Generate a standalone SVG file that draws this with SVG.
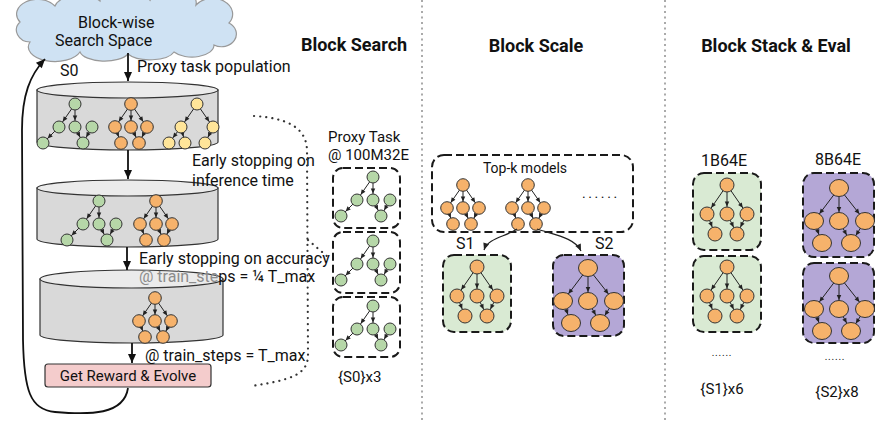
<svg xmlns="http://www.w3.org/2000/svg" xmlns:xlink="http://www.w3.org/1999/xlink" width="891" height="423" viewBox="0 0 891 423">
<style>
text{font-family:Roboto,"Liberation Sans",sans-serif;fill:#111}
.lb{font-size:16px}
.tt{font-size:18px;font-weight:bold;text-anchor:middle}
.cb{fill:#d9d9d9;stroke:#333;stroke-width:1.2}
.ct{fill:#ebebeb;stroke:#333;stroke-width:1.2}
.ng{fill:#b6d7a8;stroke:#333;stroke-width:1}
.no{fill:#f6b26b;stroke:#333;stroke-width:1}
.ny{fill:#ffe599;stroke:#333;stroke-width:1}
.e6 line{stroke:#222;stroke-width:1;marker-end:url(#ah6)}
.e7 line{stroke:#222;stroke-width:1;marker-end:url(#ah7)}
.e9 line{stroke:#222;stroke-width:1;marker-end:url(#ah9)}
.dbox{stroke:#1a1a1a;stroke-width:2;stroke-dasharray:8 4;fill:none}
.sep{stroke:#aaa;stroke-width:2;stroke-dasharray:2 3.5}
.dot{fill:none;stroke:#333;stroke-width:2.2;stroke-linecap:round;stroke-dasharray:0.1 6}
.main{fill:none;stroke:#111;stroke-width:1.8}
</style>
<defs>
<marker id="arr" markerUnits="userSpaceOnUse" markerWidth="10" markerHeight="8" refX="9" refY="4" orient="auto" overflow="visible"><path d="M0,0 L9,4 L0,8 z" fill="#111"/></marker>
<marker id="arrs" markerUnits="userSpaceOnUse" markerWidth="8" markerHeight="6" refX="7" refY="3" orient="auto" overflow="visible"><path d="M0,0 L7,3 L0,6 z" fill="#222"/></marker>
<marker id="ah6" markerUnits="userSpaceOnUse" markerWidth="6" markerHeight="5" refX="11.5" refY="2.25" orient="auto" overflow="visible"><path d="M0,0 L5,2.25 L0,4.5 z" fill="#222"/></marker>
<marker id="ah7" markerUnits="userSpaceOnUse" markerWidth="6" markerHeight="5" refX="12.5" refY="2.25" orient="auto" overflow="visible"><path d="M0,0 L5,2.25 L0,4.5 z" fill="#222"/></marker>
<marker id="ah9" markerUnits="userSpaceOnUse" markerWidth="6" markerHeight="5" refX="14" refY="2.25" orient="auto" overflow="visible"><path d="M0,0 L5,2.25 L0,4.5 z" fill="#222"/></marker>
<g id="tG6">
<g class="e6"><line x1="0" y1="0" x2="-16" y2="23"/><line x1="0" y1="0" x2="0" y2="23"/><line x1="-16" y1="23" x2="-32" y2="39"/><line x1="0" y1="23" x2="8" y2="39"/><line x1="17" y1="23" x2="8" y2="39"/></g>
<circle class="ng" cx="0" cy="0" r="6"/><circle class="ng" cx="-16" cy="23" r="6"/><circle class="ng" cx="0" cy="23" r="6"/><circle class="ng" cx="17" cy="23" r="6"/><circle class="ng" cx="-32" cy="39" r="6"/><circle class="ng" cx="8" cy="39" r="6"/>
</g>
<g id="tA6">
<g class="e6"><line x1="0" y1="0" x2="-16" y2="23"/><line x1="0" y1="0" x2="0" y2="23"/><line x1="0" y1="0" x2="16" y2="23"/><line x1="-16" y1="23" x2="-10" y2="39"/><line x1="0" y1="23" x2="8" y2="39"/><line x1="16" y1="23" x2="8" y2="39"/></g>
<circle class="no" cx="0" cy="0" r="6.3"/><circle class="no" cx="-16" cy="23" r="6.3"/><circle class="no" cx="0" cy="23" r="6.3"/><circle class="no" cx="16" cy="23" r="6.3"/><circle class="no" cx="-10" cy="39" r="6.3"/><circle class="no" cx="8" cy="39" r="6.3"/>
</g>
<g id="tY6">
<g class="e6"><line x1="0" y1="0" x2="-16" y2="23"/><line x1="0" y1="0" x2="16" y2="23"/><line x1="-16" y1="23" x2="-28" y2="39"/><line x1="-16" y1="23" x2="-12" y2="39"/><line x1="16" y1="23" x2="8" y2="39"/></g>
<circle class="ny" cx="0" cy="0" r="6"/><circle class="ny" cx="-16" cy="23" r="6"/><circle class="ny" cx="16" cy="23" r="6"/><circle class="ny" cx="-28" cy="39" r="6"/><circle class="ny" cx="-12" cy="39" r="6"/><circle class="ny" cx="8" cy="39" r="6"/>
</g>
<g id="tA7">
<g class="e7"><line x1="0" y1="0" x2="-20" y2="29"/><line x1="0" y1="0" x2="0" y2="29"/><line x1="0" y1="0" x2="20" y2="29"/><line x1="-20" y1="29" x2="-12" y2="49"/><line x1="0" y1="29" x2="10" y2="49"/><line x1="20" y1="29" x2="10" y2="49"/></g>
<circle class="no" cx="0" cy="0" r="7"/><circle class="no" cx="-20" cy="29" r="7"/><circle class="no" cx="0" cy="29" r="7"/><circle class="no" cx="20" cy="29" r="7"/><circle class="no" cx="-12" cy="49" r="7"/><circle class="no" cx="10" cy="49" r="7"/>
</g>
<g id="tP">
<g class="e9"><line x1="0" y1="0" x2="-25" y2="33"/><line x1="0" y1="0" x2="0" y2="33"/><line x1="0" y1="0" x2="26" y2="33"/><line x1="-25" y1="33" x2="-17" y2="55"/><line x1="0" y1="33" x2="12" y2="55"/><line x1="26" y1="33" x2="12" y2="55"/></g>
<ellipse class="no" cx="0" cy="0" rx="9.5" ry="8.5"/><ellipse class="no" cx="-25" cy="33" rx="9.5" ry="8.5"/><ellipse class="no" cx="0" cy="33" rx="9.5" ry="8.5"/><ellipse class="no" cx="26" cy="33" rx="9.5" ry="8.5"/><ellipse class="no" cx="-17" cy="55" rx="9.5" ry="8.5"/><ellipse class="no" cx="12" cy="55" rx="9.5" ry="8.5"/>
</g>
</defs>
<rect width="891" height="423" fill="#fff"/>

<g id="separators">
<line class="sep" x1="422" y1="0" x2="422" y2="423"/>
<line class="sep" x1="665" y1="0" x2="665" y2="423"/>
</g>

<g id="titles">
<text class="tt" x="354" y="51">Block Search</text>
<text class="tt" x="536" y="52">Block Scale</text>
<text class="tt" x="776" y="52">Block Stack &amp; Eval</text>
</g>

<g id="cloud">
<path d="M30 42 A14 12 0 0 1 20 22 A20 14 0 0 1 55 6 A25 14 0 0 1 100 1 A25 14 0 0 1 150 1 A22 14 0 0 1 196 5 A18 14 0 0 1 229 23 A14 12 0 0 1 214 45 A22 12 0 0 1 174 52 A25 11 0 0 1 128 54 A25 11 0 0 1 80 52 A22 12 0 0 1 30 42 Z" fill="#cfe2f3" stroke="#999" stroke-width="1.2"/>
<text class="lb" x="78" y="28">Block-wise</text>
<text class="lb" x="55" y="46">Search Space</text>
</g>

<g id="cyl1">
<path class="cb" d="M37 90 L37 142 A90.5 8 0 0 0 218 142 L218 90 Z"/>
<ellipse class="ct" cx="127.5" cy="90" rx="90.5" ry="8"/>
<use xlink:href="#tG6" x="75" y="104"/>
<use xlink:href="#tA6" x="131" y="104"/>
<use xlink:href="#tY6" x="197" y="104"/>
</g>

<g id="cyl2">
<path class="cb" d="M37 188 L37 239 A90.5 8 0 0 0 218 239 L218 188 Z"/>
<ellipse class="ct" cx="127.5" cy="188" rx="90.5" ry="8"/>
<use xlink:href="#tG6" x="99" y="201"/>
<use xlink:href="#tA6" x="156" y="201"/>
</g>

<g id="cyl3">
<path class="cb" d="M40 279 L40 335 A91.5 8 0 0 0 223 335 L223 279 Z"/>
<ellipse class="ct" cx="131.5" cy="279" rx="91.5" ry="9"/>
<use xlink:href="#tA6" x="155" y="298"/>
</g>

<g id="reward">
<rect x="45" y="364" width="166" height="23" rx="3" fill="#f4cccc" stroke="#333" stroke-width="1.2"/>
<text x="128" y="381" font-size="15" text-anchor="middle">Get Reward &amp; Evolve</text>
</g>

<g id="labels-search">
<text class="lb" x="60" y="76">S0</text>
<text class="lb" x="137" y="72">Proxy task population</text>
<text class="lb" x="192" y="166">Early stopping on</text>
<text class="lb" x="192" y="186">inference time</text>
<text class="lb" x="139" y="264">Early stopping on accuracy</text>
<text class="lb" x="139" y="282"><tspan fill="#8c8c8c">@ train_ste</tspan>ps = ¼ T_max</text>
<text class="lb" x="145" y="361">@ train_steps = T_max</text>
</g>

<g id="proxy">
<text x="328" y="142" font-size="15">Proxy Task</text>
<text x="328" y="160" font-size="15">@ 100M32E</text>
<g id="proxy1"><rect class="dbox" x="333" y="168" width="67" height="60" rx="10"/><use xlink:href="#tG6" x="373" y="177"/></g>
<g id="proxy2"><rect class="dbox" x="333" y="232" width="67" height="61" rx="10"/><use xlink:href="#tG6" x="373" y="241"/></g>
<g id="proxy3"><rect class="dbox" x="333" y="297" width="67" height="60" rx="10"/><use xlink:href="#tG6" x="373" y="306"/></g>
<text x="338" y="382" font-size="15">{S0}x3</text>
</g>

<g id="topk">
<rect class="dbox" x="432" y="155" width="201" height="77" rx="12"/>
<text x="525" y="173" font-size="14" text-anchor="middle">Top-k models</text>
<use xlink:href="#tA6" x="463" y="185"/>
<use xlink:href="#tA6" x="528" y="185"/>
<text x="582" y="198" font-size="14" letter-spacing="2.6">......</text>
</g>

<g id="s1">
<text class="lb" x="456" y="249">S1</text>
<rect x="443" y="255" width="68" height="77" rx="11" fill="#d9ead3"/>
<rect class="dbox" x="443" y="255" width="68" height="77" rx="11"/>
<use xlink:href="#tA7" x="477" y="267"/>
</g>

<g id="s2">
<text class="lb" x="595" y="249">S2</text>
<rect x="553" y="255" width="71" height="81" rx="11" fill="#b4a7d6"/>
<rect class="dbox" x="553" y="255" width="71" height="81" rx="11"/>
<use xlink:href="#tP" x="588" y="268"/>
</g>

<g id="stack-s1">
<text class="lb" x="724" y="166" text-anchor="middle">1B64E</text>
<g id="s1a"><rect x="693" y="173" width="68" height="77" rx="11" fill="#d9ead3"/><rect class="dbox" x="693" y="173" width="68" height="77" rx="11"/><use xlink:href="#tA7" x="727" y="185"/></g>
<g id="s1b"><rect x="693" y="256" width="68" height="76" rx="11" fill="#d9ead3"/><rect class="dbox" x="693" y="256" width="68" height="76" rx="11"/><use xlink:href="#tA7" x="727" y="267"/></g>
<text x="722" y="356" font-size="10" text-anchor="middle" letter-spacing="0.8">......</text>
<text x="722" y="394" font-size="15" text-anchor="middle">{S1}x6</text>
</g>

<g id="stack-s2">
<text class="lb" x="838" y="165" text-anchor="middle">8B64E</text>
<g id="s2a"><rect x="803" y="173" width="71" height="84" rx="11" fill="#b4a7d6"/><rect class="dbox" x="803" y="173" width="71" height="84" rx="11"/><use xlink:href="#tP" x="839" y="188"/></g>
<g id="s2b"><rect x="803" y="263" width="71" height="80" rx="11" fill="#b4a7d6"/><rect class="dbox" x="803" y="263" width="71" height="80" rx="11"/><use xlink:href="#tP" x="839" y="276"/></g>
<text x="835" y="360" font-size="10" text-anchor="middle" letter-spacing="0.8">......</text>
<text x="837" y="397" font-size="15" text-anchor="middle">{S2}x8</text>
</g>

<g id="connectors">
<line class="main" x1="128" y1="53" x2="128" y2="81" marker-end="url(#arr)"/>
<line class="main" x1="128" y1="150" x2="128" y2="179" marker-end="url(#arr)"/>
<line class="main" x1="127" y1="247" x2="127" y2="270" marker-end="url(#arr)"/>
<line class="main" x1="132" y1="343" x2="132" y2="363" marker-end="url(#arr)"/>
<path class="main" d="M128 388 C124 415 90 415 55 412 C30 410 24 390 23 340 L22 130 C22 95 30 75 45 59" marker-end="url(#arr)"/>
<path class="dot" d="M254 116 C285 118 306 126 307 150 L308 355 C308 375 290 380 252 386"/>
<path class="dot" d="M308 240 L328 257"/>
<path d="M517 229 C505 237 488 238 484 250" fill="none" stroke="#222" stroke-width="1.2" marker-end="url(#arrs)"/>
<path d="M537 229 C555 235 575 238 581 251" fill="none" stroke="#222" stroke-width="1.2" marker-end="url(#arrs)"/>
</g>
</svg>
